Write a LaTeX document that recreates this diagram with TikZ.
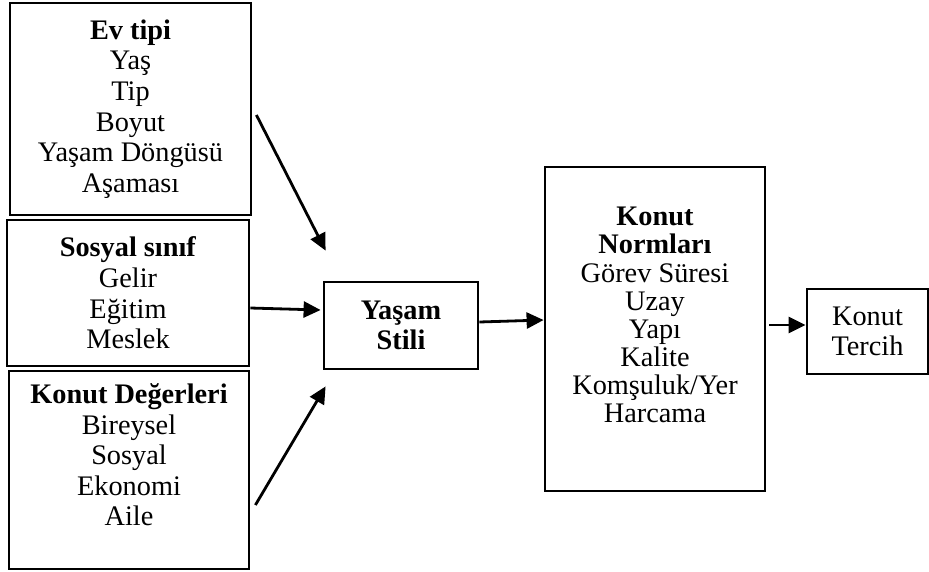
\documentclass[tikz,border=0pt]{standalone}
\usepackage{fontspec}
\setmainfont{Liberation Serif}
\usetikzlibrary{arrows.meta}

\begin{document}
\begin{tikzpicture}[x=1pt,y=-1pt,
            kutu/.style={draw,line width=2.8pt,align=center,inner sep=0pt,font=\fontsize{28.3}{30.6}\selectfont},
            ok/.style={-{Triangle[length=17pt,width=16pt]},line width=2.8pt}]
            \useasboundingbox (0,0) rectangle (929,571);
            \node[kutu,minimum width=241pt,minimum height=212pt] (evtipi) at (130.5,109) {\textbf{Ev tipi}\\Yaş\\Tip\\Boyut\\Yaşam Döngüsü\\Aşaması};
            \node[kutu,minimum width=242pt,minimum height=146pt] (sosyal) at (128,293) {\textbf{Sosyal sınıf}\\Gelir\\Eğitim\\Meslek};
            \node[kutu,minimum width=240pt,minimum height=198pt] (degerler) at (129,470) {\textbf{Konut Değerleri}\\Bireysel\\Sosyal\\Ekonomi\\Aile\\~};
            \node[kutu,minimum width=154pt,minimum height=87pt] (yasam) at (401,325.5) {\textbf{Yaşam}\\\textbf{Stili}};
            \node[kutu,minimum width=220pt,minimum height=324pt,font=\fontsize{28.3}{28.1}\selectfont] (normlar) at (655,329) {\textbf{Konut}\\\textbf{Normları}\\Görev Süresi\\Uzay\\Yapı\\Kalite\\Komşuluk/Yer\\Harcama\\~};
            \node[kutu,minimum width=121pt,minimum height=85pt] (tercih) at (867.5,331.5) {Konut\\Tercih};
            \draw[ok] ([xshift=4pt,yshift=-6pt]evtipi.east) -- ([xshift=3pt,yshift=30pt]yasam.north west);
            \draw[ok] ([yshift=-15pt]sosyal.east) -- ([xshift=-2pt,yshift=15.5pt]yasam.west);
            \draw[ok] ([xshift=5pt,yshift=-35pt]degerler.east) -- ([xshift=3pt,yshift=-16pt]yasam.south west);
            \draw[ok] ([yshift=3.5pt]yasam.east) -- ([yshift=9pt]normlar.west);
            \draw[ok] ([xshift=3pt,yshift=4pt]normlar.east) -- ([yshift=6.5pt]tercih.west);
        \end{tikzpicture}
\end{document}
